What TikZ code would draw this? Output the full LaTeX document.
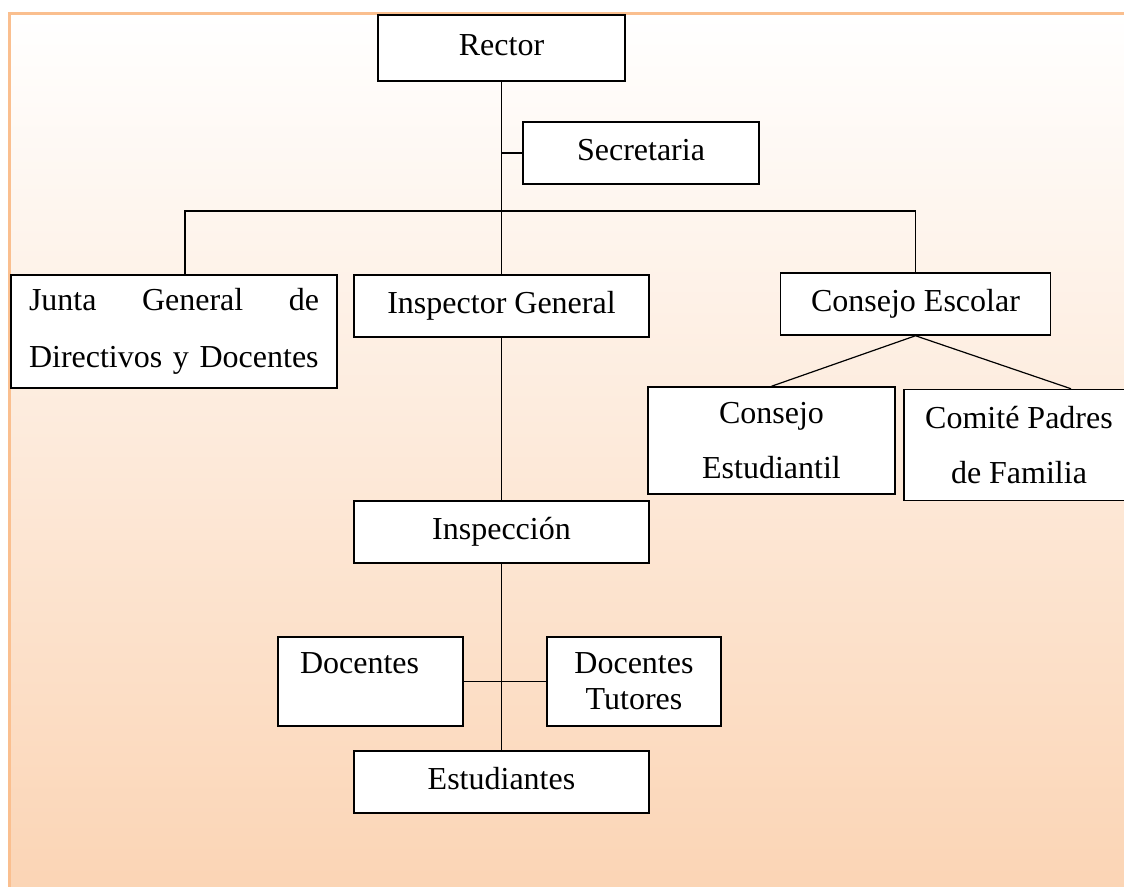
\documentclass[tikz,border=0pt]{standalone}
\usepackage{fontspec}
\setmainfont{Liberation Serif}
\usetikzlibrary{calc}

\definecolor{marcoborde}{RGB}{250,191,143}
\definecolor{marcofondo}{RGB}{251,212,180}

\tikzset{every picture/.style={line width=1.2pt}}
\tikzset{
  caja/.style={draw, fill=white, line width=1.5pt, inner sep=0pt,
    text height=22.4pt, text depth=8pt, font=\fontsize{32}{38}\selectfont},
  cajaancha/.style={draw, fill=white, line width=1.5pt, inner sep=0pt,
    font=\fontsize{32}{56}\selectfont},
  cajabaja/.style={draw, fill=white, line width=1.5pt, inner sep=0pt,
    font=\fontsize{32}{36}\selectfont}
}

\begin{document}
\begin{tikzpicture}[x=1pt,y=1pt,yscale=-1,xscale=1]
\useasboundingbox (0,0) rectangle (1124,886);
\clip (0,0) rectangle (1124,886);

%Shape: Rectangle (marco)
\shade [top color=white, bottom color=marcofondo] (9.7,13.7) rectangle (1135,900);
\draw [color=marcoborde, line width=2.7pt] (9.7,13.7) rectangle (1135,900);

% Nodos
\node [caja, minimum width=247pt, minimum height=66pt] (rector) at (501.5,48) {Rector};
\node [caja, minimum width=236pt, minimum height=62pt] (secretaria) at (641,153) {Secretaria};
\node [cajaancha, font=\fontsize{32}{57}\selectfont, text width=290pt, inner xsep=18pt, minimum height=113pt, align=left] (junta) at (174,331.5) {Junta\hfill General\hfill de\\\mbox{Directivos y Docentes}};
\node [caja, minimum width=295pt, minimum height=62pt] (inspector) at (501.5,306) {Inspector General};
\node [caja, minimum width=270pt, minimum height=62pt] (escolar) at (915.5,304) {Consejo Escolar};
\node [cajaancha, font=\fontsize{32}{55}\selectfont, minimum width=247pt, minimum height=107pt, align=center] (estudiantil) at (771.5,440.5) {Consejo\\Estudiantil};
\node [cajaancha, font=\fontsize{32}{55}\selectfont, minimum width=230pt, minimum height=111pt, align=center] (comite) at (1019,445) {Comité Padres\\de Familia};
\node [caja, minimum width=295pt, minimum height=62pt] (inspeccion) at (501.5,532) {Inspección};
\node [cajabaja, text width=141pt, inner xsep=22pt, minimum height=89pt, align=left] (docentes) at (370.5,681.5) {Docentes\\\mbox{}};
\node [cajabaja, minimum width=174pt, minimum height=89pt, align=center] (tutores) at (634,681.5) {Docentes\\Tutores};
\node [caja, minimum width=295pt, minimum height=62pt] (estudiantes) at (501.5,782) {Estudiantes};

%Straight Lines
\draw (rector.south) -- (inspector.north);
\draw (rector.south |- secretaria.west) -- (secretaria.west);
\coordinate (barra) at (185,211);
\draw (barra |- junta.north) -- (barra) -- (barra -| escolar.north) -- (escolar.north);
\draw (escolar.south) -- (estudiantil.north);
\draw (escolar.south) -- ([xshift=52pt]comite.north);
\draw (inspector.south) -- (inspeccion.north);
\draw (inspeccion.south) -- (estudiantes.north);
\draw (docentes.east) -- (tutores.west);

\end{tikzpicture}
\end{document}
